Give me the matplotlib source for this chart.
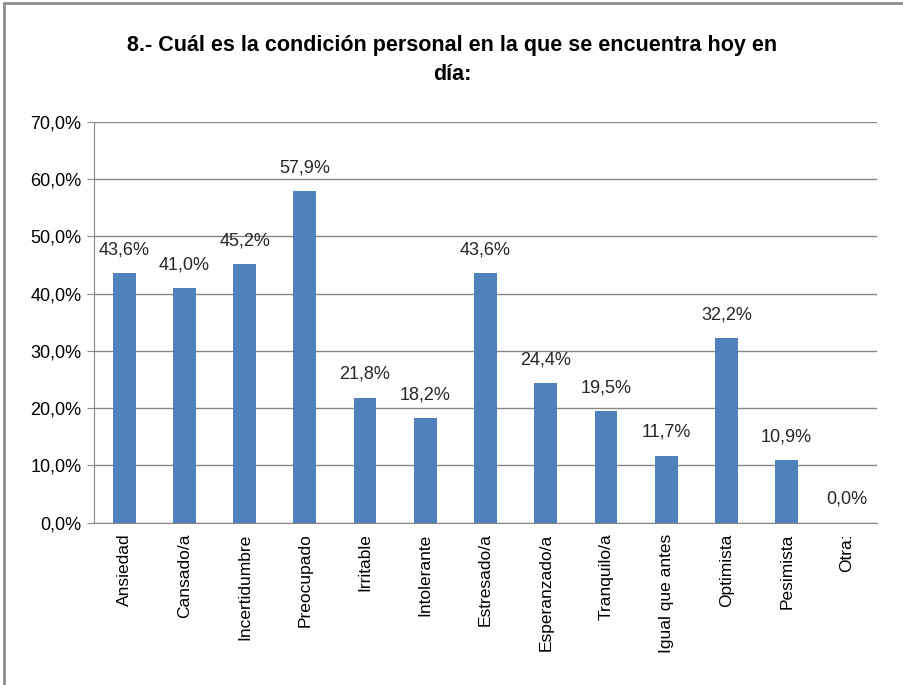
import matplotlib
matplotlib.use("Agg")
import matplotlib.pyplot as plt
from matplotlib.patches import Rectangle
from matplotlib.ticker import FuncFormatter

categories = ["Ansiedad", "Cansado/a", "Incertidumbre", "Preocupado", "Irritable",
              "Intolerante", "Estresado/a", "Esperanzado/a", "Tranquilo/a",
              "Igual que antes", "Optimista", "Pesimista", "Otra:"]
values = [43.6, 41.0, 45.2, 57.9, 21.8, 18.2, 43.6, 24.4, 19.5, 11.7, 32.2, 10.9, 0.0]
yticks = [0, 10, 20, 30, 40, 50, 60, 70]
title = "8.- Cuál es la condición personal en la que se encuentra hoy en\ndía:"

plt.rcParams["font.family"] = ["Liberation Sans", "DejaVu Sans"]

fig = plt.figure(figsize=(9.04, 6.85), dpi=100)
# outer chart frame
fig.patches.append(Rectangle((4 / 904, -0.05), 1.0, 1.05 - 3 / 685, transform=fig.transFigure,
                             fill=False, edgecolor="#8c8c8c", linewidth=2))

ax = fig.add_axes([94 / 904, (685 - 522.5) / 685, (877 - 94) / 904, (522.5 - 122) / 685])
x = list(range(len(categories)))
bars = ax.bar(x, values, width=0.38, color="#4F81BD", zorder=3)
for xi, v in zip(x, values):
    ax.text(xi, v + 2.6, f"{v:.1f}%".replace(".", ","), ha="center", va="bottom",
            fontsize=13, color="#262626")

ax.set_xlim(-0.5, len(categories) - 0.5)
ax.set_ylim(0, 70)
ax.set_yticks(yticks)
ax.yaxis.set_major_formatter(FuncFormatter(lambda v, p: f"{v:.1f}%".replace(".", ",")))
ax.grid(axis="y", color="#868686", linewidth=1, zorder=0)
ax.set_xticks(x)
ax.set_xticklabels(categories, rotation=90, fontsize=12.5)
ax.tick_params(axis="x", length=0, pad=8)
ax.tick_params(axis="y", length=5, color="#868686", labelsize=13, pad=4)
for s in ["top", "right"]:
    ax.spines[s].set_visible(False)
ax.spines["left"].set_color("#868686")
ax.spines["bottom"].set_color("#868686")

fig.text(0.5, 1 - 60 / 685, title, ha="center", va="center", fontsize=15.5,
         fontweight="bold", linespacing=1.5)

fig.savefig("out.png", dpi=100)
